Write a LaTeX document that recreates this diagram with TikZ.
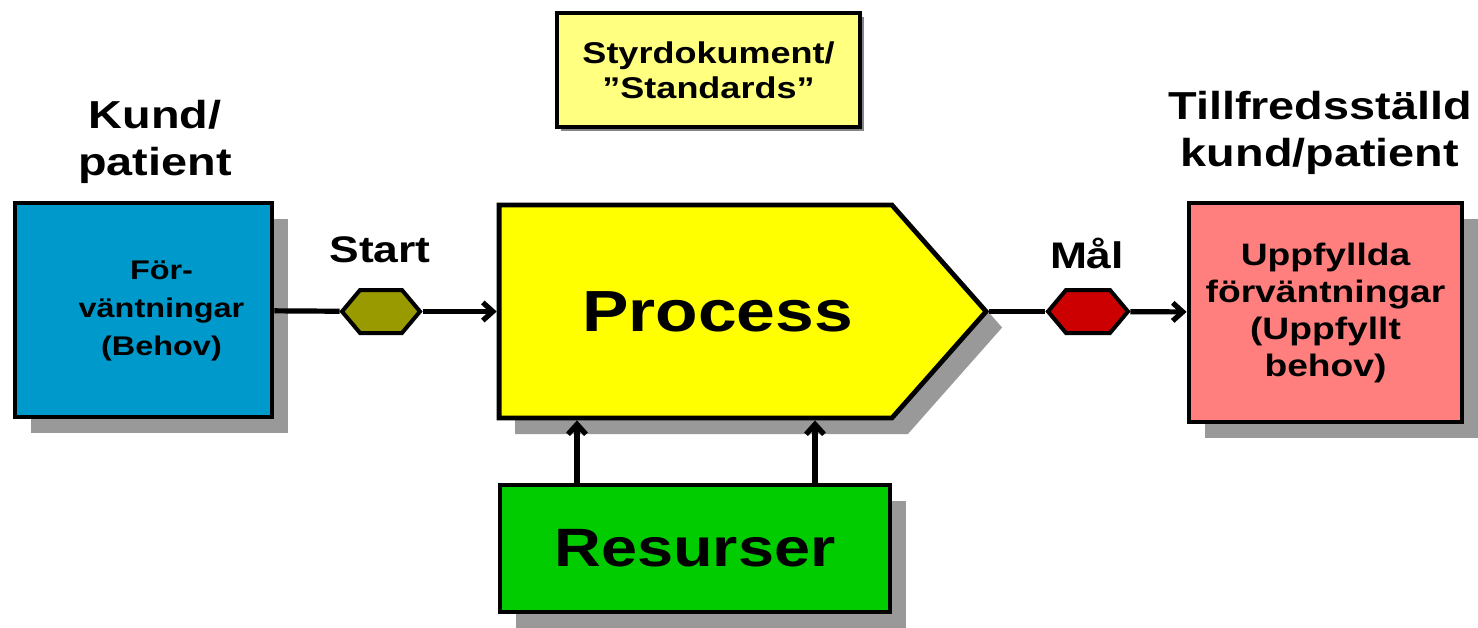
\documentclass[tikz,border=0pt]{standalone}
\usepackage{fontspec}
\setmainfont[FakeStretch=1.2]{Liberation Sans}
\usepackage{tikz}
\usetikzlibrary{arrows.meta,positioning,shapes.symbols,shadows}
\definecolor{behovblue}{HTML}{0099CC}
\definecolor{uppfpink}{HTML}{FF7F7F}
\definecolor{procyellow}{HTML}{FFFF00}
\definecolor{styryellow}{HTML}{FFFF80}
\definecolor{resgreen}{HTML}{00CC00}
\definecolor{startolive}{HTML}{999900}
\definecolor{malred}{HTML}{CC0000}

\begin{document}
\begin{tikzpicture}[
  x=0.5pt, y=-0.5pt,
  every node/.style={align=center, font=\bfseries},
  plainbox/.style={draw, line width=2.4pt, inner sep=0pt},
  box/.style={plainbox,
    drop shadow={shadow xshift=8pt, shadow yshift=-8pt, fill=black!40, opacity=1}},
  hex/.style={draw, line width=2pt, signal, signal to=west and east, signal pointer angle=100,
    minimum width=39pt, minimum height=21.5pt, inner sep=0pt},
  title/.style={font=\bfseries\fontsize{19.5}{23.5}\selectfont},
  conn/.style={line width=2.6pt},
  arr/.style={conn, -{Straight Barb[length=5pt, width=9pt]}},
]
  \useasboundingbox (0,0) rectangle (1478,627);

  % Boxes
  \node[box, fill=behovblue, minimum width=128.5pt, minimum height=107pt,
        font=\bfseries\fontsize{13.5}{19}\selectfont] (behov) at (143.5,310)
        {\hspace*{18pt}\begin{tabular}{@{}c@{}}För-\\väntningar\\(Behov)\end{tabular}};
  \node[box, fill=procyellow, signal, signal to=east, signal pointer angle=97,
        minimum width=243.5pt, minimum height=106.5pt,
        font=\bfseries\fontsize{29}{34}\selectfont] (proc) at (695.5,311.5) {\hspace*{22pt}Process};
  \node[box, fill=uppfpink, minimum width=136.5pt, minimum height=109.5pt,
        font=\bfseries\fontsize{15.5}{18.5}\selectfont] (uppf) at (1325.5,312.5) {Uppfyllda\\förväntningar\\(Uppfyllt\\behov)};
  \node[plainbox, fill=styryellow, minimum width=151.5pt, minimum height=57pt,
        drop shadow={shadow xshift=2pt, shadow yshift=-2pt, fill=black!60, opacity=0.8},
        font=\bfseries\fontsize{15}{17.5}\selectfont] (styr) at (708.5,70) {Styrdokument/\\”Standards”};
  \node[box, fill=resgreen, minimum width=195pt, minimum height=63.5pt,
        font=\bfseries\fontsize{27}{32}\selectfont] (res) at (695,548.5) {Resurser};

  % Start / Mål
  \node[hex, fill=startolive] (start) at (381,311.5) {};
  \node[hex, fill=malred, minimum width=40pt] (mal) at (1088,311.5) {};

  % Labels
  \node[title] (kund) at (155,142) {Kund/\\patient};
  \node[title] (tillf) at (1320,133) {Tillfredsställd\\kund/patient};
  \node[font=\bfseries\fontsize{18.5}{22}\selectfont] (startlbl) at (380,250) {Start};
  \node[font=\bfseries\fontsize{18.5}{22}\selectfont] (mallbl) at (1087,253) {Mål};

  % Connectors
  \draw[conn] (behov) -- (start);
  \draw[arr] (start) -- (proc.west);
  \draw[conn] (proc.east) -- (mal);
  \draw[arr] (mal) -- (uppf);
  \draw[arr] ([xshift=-59pt]res.north) -- ([xshift=-59pt]res.north |- proc.south);
  \draw[arr] ([xshift=60pt]res.north) -- ([xshift=60pt]res.north |- proc.south);
\end{tikzpicture}
\end{document}
